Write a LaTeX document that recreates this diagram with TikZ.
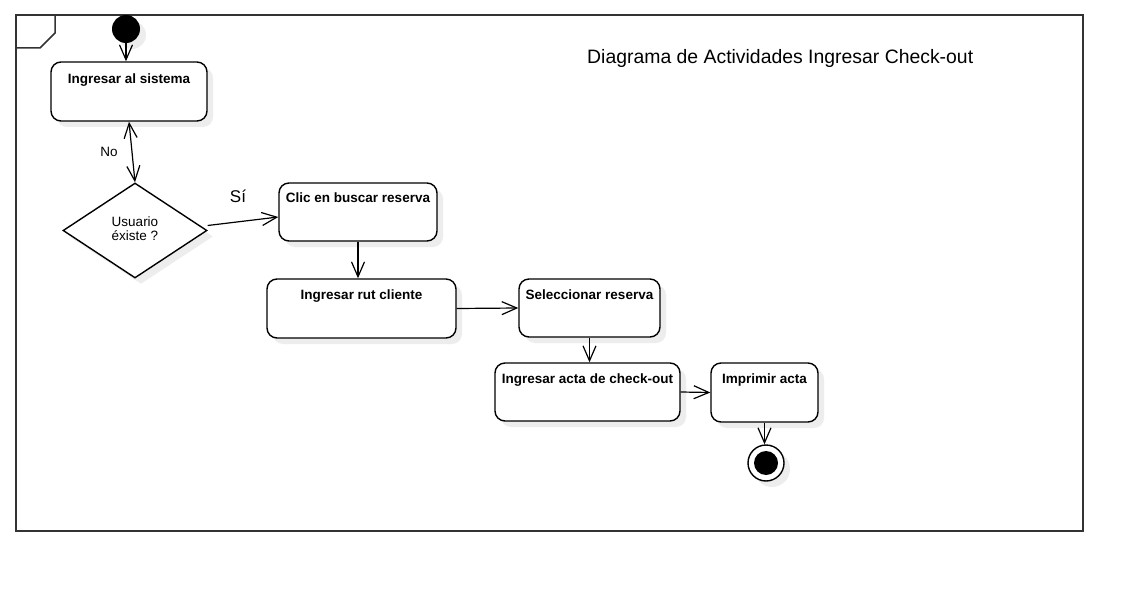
\documentclass[tikz,border=0pt]{standalone}
\usepackage{fontspec}
\setmainfont{Liberation Sans}
\usetikzlibrary{arrows.meta,shapes.geometric,shadows,positioning}
\begin{document}
\begin{tikzpicture}[x=1pt,y=-1pt,
  shadowed/.style={drop shadow={shadow xshift=6pt,shadow yshift=-6pt,fill=black!7,opacity=1}},
  actbox/.style={draw=black,line width=1.4pt,rounded corners=10pt,fill=white,inner sep=0pt,shadowed},
  boxtext/.style={font=\fontsize{13.5}{15}\selectfont\bfseries,inner sep=0pt,anchor=north},
  arr/.style={line width=1.2pt,-{Straight Barb[length=15pt,width=13pt]}},
  arrboth/.style={line width=1.2pt,{Straight Barb[length=15pt,width=13pt]}-{Straight Barb[length=15pt,width=13pt]}},
  plain/.style={font=\fontsize{13.5}{14}\selectfont,inner sep=0pt}
]
\useasboundingbox (0,0) rectangle (1143,591);
\fill[white] (0,0) rectangle (1143,591);
% frame
\draw[line width=2pt,draw=black!80] (16,15) rectangle (1083,531);
\draw[line width=1.5pt,draw=black!80] (16,15) -- (55,15) -- (55,33) -- (40,48) -- (16,48);
% title
\node[anchor=base west,inner sep=0pt,font=\fontsize{19.4}{22}\selectfont] (title) at (587,64) {Diagrama de Actividades Ingresar Check-out};
% start
\node[circle,fill=black,minimum size=28pt,inner sep=0pt,shadowed] (start) at (126,29) {};
% activities
\node[actbox,minimum width=156pt,minimum height=59pt] (sys) at (129,91.5) {};
\node[boxtext,below=12pt of sys.north] (sysT) {Ingresar al sistema};
\node[draw=black,line width=1.4pt,fill=white,shape=diamond,aspect=1.516,minimum width=144pt,minimum height=95pt,inner sep=0pt,shadowed] (dec) at (135,230.5) {};
\node[plain,align=center] (decT) at (135,229) {Usuario\\éxiste ?};
\node[actbox,minimum width=158pt,minimum height=58pt] (clic) at (358,212) {};
\node[boxtext,below=10.5pt of clic.north] (clicT) {Clic en buscar reserva};
\node[actbox,minimum width=189pt,minimum height=59pt] (rut) at (361.5,308.5) {};
\node[boxtext,below=11pt of rut.north] (rutT) {Ingresar rut cliente};
\node[actbox,minimum width=141pt,minimum height=58pt] (sel) at (589.5,308) {};
\node[boxtext,below=11pt of sel.north] (selT) {Seleccionar reserva};
\node[actbox,minimum width=185pt,minimum height=58pt] (acta) at (587.5,392) {};
\node[boxtext,below=11pt of acta.north] (actaT) {Ingresar acta de check-out};
\node[actbox,minimum width=107pt,minimum height=59pt] (imp) at (764.5,392.5) {};
\node[boxtext,below=11pt of imp.north] (impT) {Imprimir acta};
% final
\node[circle,draw=black,line width=1.4pt,fill=white,minimum size=36pt,inner sep=0pt,shadowed] (final) at (766,463) {};
\fill[black] (final.center) circle (12);
% labels
\node[plain] (no) at (109,152) {No};
\node[inner sep=0pt,font=\fontsize{17}{19}\selectfont] (si) at (238,196) {Sí};
% connectors
\draw[arr] (start.south) -- (start.south |- sys.north);
\draw[arrboth] (sys.south) -- (dec.north);
\draw[arr] ([yshift=5pt]dec.east) -- ([yshift=-5pt]clic.west);
\draw[arr] (clic.south) -- (clic.south |- rut.north);
\draw[arr] (rut.east) -- (sel.west);
\draw[arr] (sel.south) -- (sel.south |- acta.north);
\draw[arr] (acta.east) -- (imp.west);
\draw[arr] (imp.south) -- (imp.south |- final.north);
\end{tikzpicture}
\end{document}
